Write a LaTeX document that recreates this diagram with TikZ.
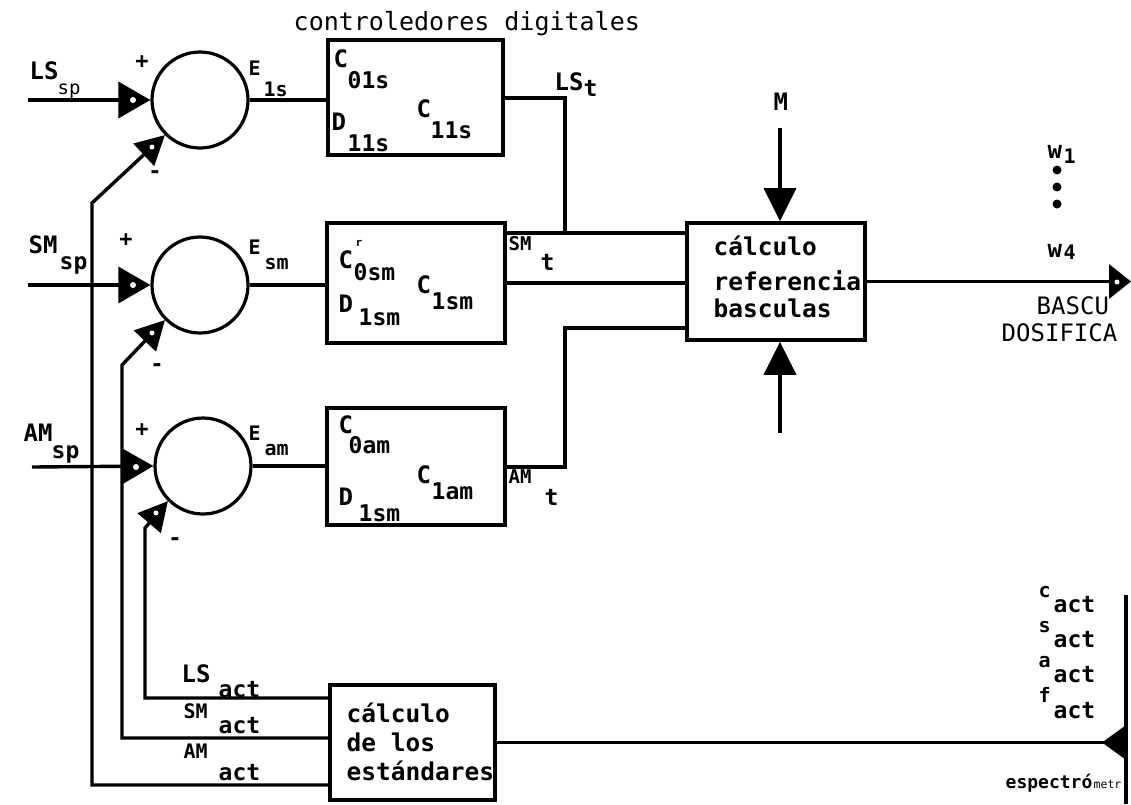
\documentclass[tikz,border=0pt]{standalone}
\usepackage{fontspec}
\setmainfont{DejaVu Sans Mono}
\usetikzlibrary{arrows.meta}
\begin{document}
\begin{tikzpicture}[x=1pt,y=-1pt, line width=3.4pt, line join=miter,
 lbl/.style={anchor=base west,inner sep=0pt,font=\fontsize{24}{24}\selectfont\bfseries},
 sb/.style={anchor=base west,inner sep=0pt,font=\fontsize{23}{23}\selectfont\bfseries},
 el/.style={anchor=base west,inner sep=0pt,font=\fontsize{20}{20}\selectfont\bfseries},
 txt/.style={anchor=base west,inner sep=0pt,font=\fontsize{25}{25}\selectfont},
 btxt/.style={anchor=base west,inner sep=0pt,font=\fontsize{24.5}{24.5}\selectfont\bfseries},
 sgn/.style={anchor=center,inner sep=0pt,font=\fontsize{22}{22}\selectfont\bfseries},
 sum/.style={circle,draw,line width=3.2pt,minimum size=96pt,inner sep=0pt},
 blk/.style={draw,line width=3.6pt,inner sep=0pt},
 plusarr/.style={-{Triangle[length=32pt,width=36pt]}},
 minusarr/.style={-{Triangle[length=29pt,width=30pt]}},
 marr/.style={-{Triangle[length=33pt,width=32pt]}},
 outarr/.style={-{Triangle[length=22pt,width=34pt]}},
 specarr/.style={-{Triangle[reversed,length=24pt,width=34pt]}},
 spot/.style={white}
]
\fill[white] (0,0) rectangle (1131,804);
\useasboundingbox (0,0) rectangle (1131,804);

% title
\node[txt] (title) at (292,30) {controledores digitales};

% summing junctions
\node[sum] (s1) at (200,100) {};
\node[sum] (s2) at (200,285) {};
\node[sum] (s3) at (203,466) {};

% controller blocks
\node[blk,minimum width=175pt,minimum height=115pt] (b1) at (415.5,97.5) {};
\node[blk,minimum width=178pt,minimum height=120pt] (b2) at (416,283) {};
\node[blk,minimum width=178pt,minimum height=117pt] (b3) at (416,466.5) {};
\node[blk,minimum width=178pt,minimum height=117pt] (mid) at (776,281.5) {};
\node[blk,minimum width=165pt,minimum height=115pt] (bb) at (412.5,742.5) {};

% input coordinates
\coordinate (lsin) at (28,100);
\coordinate (smin) at (28,285);
\coordinate (amin) at (32,467);
\draw[plusarr] (lsin) -- (s1.west);
\draw[plusarr] (smin) -- (s2.west);
\draw[plusarr] (amin) -- (s3.west);
\fill[spot] (133,100) circle (3pt);
\fill[spot] (133,285) circle (3pt);
\fill[spot] (136,467) circle (3pt);

% circle to block
\draw (s1.east) -- (s1.east -| b1.west);
\draw (s2.east) -- (s2.east -| b2.west);
\draw (s3.east) -- (s3.east -| b3.west);

% feedback
\coordinate (k1) at (92,785);
\coordinate (k1t) at (92,203);
\coordinate (k2) at (122,738);
\coordinate (k2t) at (122,365);
\coordinate (k3) at (145,698);
\coordinate (k3t) at (145,528);
\draw[minusarr] (k1 -| bb.west) -- (k1) -- (k1t) -- (s1.225);
\draw[minusarr] (k2 -| bb.west) -- (k2) -- (k2t) -- (s2.225);
\draw[minusarr] (k3 -| bb.west) -- (k3) -- (k3t) -- (s3.225);
\fill[spot] (152,147) circle (2.5pt);
\fill[spot] (152,333) circle (2.5pt);
\fill[spot] (156,513) circle (2.5pt);

% block outputs
\coordinate (j1) at (565,98);
\coordinate (j2) at (565,233);
\coordinate (j3) at (565,467);
\coordinate (j4) at (565,328);
\draw (j1 -| b1.east) -- (j1) -- (j2) -- (j2 -| mid.west);
\draw (j2 -| b2.east) -- (j2);
\draw (b2.east) -- (b2.east -| mid.west);
\draw (j3 -| b3.east) -- (j3) -- (j4) -- (j4 -| mid.west);

% M arrows
\coordinate (mtop) at (780,128);
\coordinate (mbot) at (780,433);
\draw[marr] (mtop) -- (mtop |- mid.north);
\draw[marr] (mbot) -- (mbot |- mid.south);

% output to dosing scales
\coordinate (bout) at (1131,282);
\draw[outarr] (mid.east) -- (mid.east -| bout);
\fill[spot] (1117,282) circle (2.5pt);

% spectrometer
\coordinate (spc) at (1126,742);
\coordinate (sptop) at (1126,595);
\coordinate (spbot) at (1126,804);
\draw[specarr] (bb.east) -- (bb.east -| spc);
\draw (sptop) -- (spbot);

% input labels
\node[lbl] (l1) at (28,79) {LS};
\node[sb,font=\fontsize{19}{19}\selectfont] (l1s) at (56,94) {sp};
\node[lbl] (l2) at (27,253) {SM};
\node[sb] (l2s) at (58,269) {sp};
\node[lbl] (l3) at (22,441) {AM};
\node[sb] (l3s) at (50,458) {sp};

% signs
\node[sgn] (p1) at (142,62) {+};
\node[sgn] (p2) at (126,240) {+};
\node[sgn] (p3) at (142,430) {+};
\node[sgn] (m1) at (155,175) {-};
\node[sgn] (m2) at (157,368) {-};
\node[sgn] (m3) at (175,542) {-};

% error labels
\node[el] (e1) at (247,75) {E};
\node[el] (e1s) at (262,96) {1s};
\node[el] (e2) at (247,254) {E};
\node[el] (e2s) at (263,269) {sm};
\node[el] (e3) at (247,440) {E};
\node[el] (e3s) at (263,455) {am};

% block 1 text
\node[lbl] (c1a) at (332,67) {C};
\node[sb] (c1as) at (346,88) {01s};
\node[lbl] (c1b) at (330,130) {D};
\node[sb] (c1bs) at (346,151) {11s};
\node[lbl] (c1c) at (415,117) {C};
\node[sb] (c1cs) at (429,138) {11s};
% block 2 text
\node[lbl] (c2a) at (337,268) {C};
\node[sb,font=\fontsize{11}{11}\selectfont\bfseries] (c2r) at (354,246) {r};
\node[sb] (c2as) at (352,280) {0sm};
\node[lbl] (c2b) at (337,312) {D};
\node[sb] (c2bs) at (357,325) {1sm};
\node[lbl] (c2c) at (415,293) {C};
\node[sb] (c2cs) at (430,309) {1sm};
% block 3 text
\node[lbl] (c3a) at (337,433) {C};
\node[sb] (c3as) at (347,453) {0am};
\node[lbl] (c3b) at (337,505) {D};
\node[sb] (c3bs) at (357,521) {1sm};
\node[lbl] (c3c) at (415,483) {C};
\node[sb] (c3cs) at (430,499) {1am};

% block output labels
\node[lbl] (o1) at (553,90) {LS};
\node[sb] (o1s) at (582,96) {t};
\node[lbl,font=\fontsize{19}{19}\selectfont\bfseries] (o2) at (507,250) {SM};
\node[sb] (o2s) at (539,270) {t};
\node[lbl,font=\fontsize{19}{19}\selectfont\bfseries] (o3) at (507,483) {AM};
\node[sb] (o3s) at (543,505) {t};

% middle block text
\node[btxt] (mt1) at (712,255) {cálculo};
\node[btxt] (mt2) at (712,290) {referencia};
\node[btxt] (mt3) at (712,317) {basculas};
\node[lbl] (mm) at (772,110) {M};

% right outputs
\node[lbl] (w1) at (1046,158) {w};
\node[el] (w1s) at (1062,163) {1};
\fill (1057,170) circle (4.5pt);
\fill (1057,187) circle (4.5pt);
\fill (1057,204) circle (4.5pt);
\node[lbl] (w4) at (1046,257) {w};
\node[el] (w4s) at (1062,259) {4};
\node[txt,font=\fontsize{24}{24}\selectfont] (bs1) at (1035,314) {BASCU};
\node[txt,font=\fontsize{24}{24}\selectfont] (bs2) at (1000,341) {DOSIFICA};

% bottom block text
\node[btxt] (bt1) at (345,722) {cálculo};
\node[btxt] (bt2) at (345,751) {de los};
\node[btxt] (bt3) at (345,780) {estándares};

% feedback labels
\node[lbl] (f1) at (180,682) {LS};
\node[sb] (f1s) at (217,697) {act};
\node[lbl,font=\fontsize{20}{20}\selectfont\bfseries] (f2) at (182,718) {SM};
\node[sb] (f2s) at (217,733) {act};
\node[lbl,font=\fontsize{20}{20}\selectfont\bfseries] (f3) at (182,758) {AM};
\node[sb] (f3s) at (217,780) {act};

% spectrometer labels
\node[el] (r1) at (1037,597) {c};
\node[sb] (r1s) at (1052,612) {act};
\node[el] (r2) at (1037,632) {s};
\node[sb] (r2s) at (1052,647) {act};
\node[el] (r3) at (1037,667) {a};
\node[sb] (r3s) at (1052,682) {act};
\node[el] (r4) at (1037,702) {f};
\node[sb] (r4s) at (1052,718) {act};
\node[lbl,font=\fontsize{18}{18}\selectfont\bfseries] (sp1) at (1004,788) {espectró};
\node[lbl,font=\fontsize{11.5}{11.5}\selectfont] (sp2) at (1092,788) {metr};
\end{tikzpicture}
\end{document}
